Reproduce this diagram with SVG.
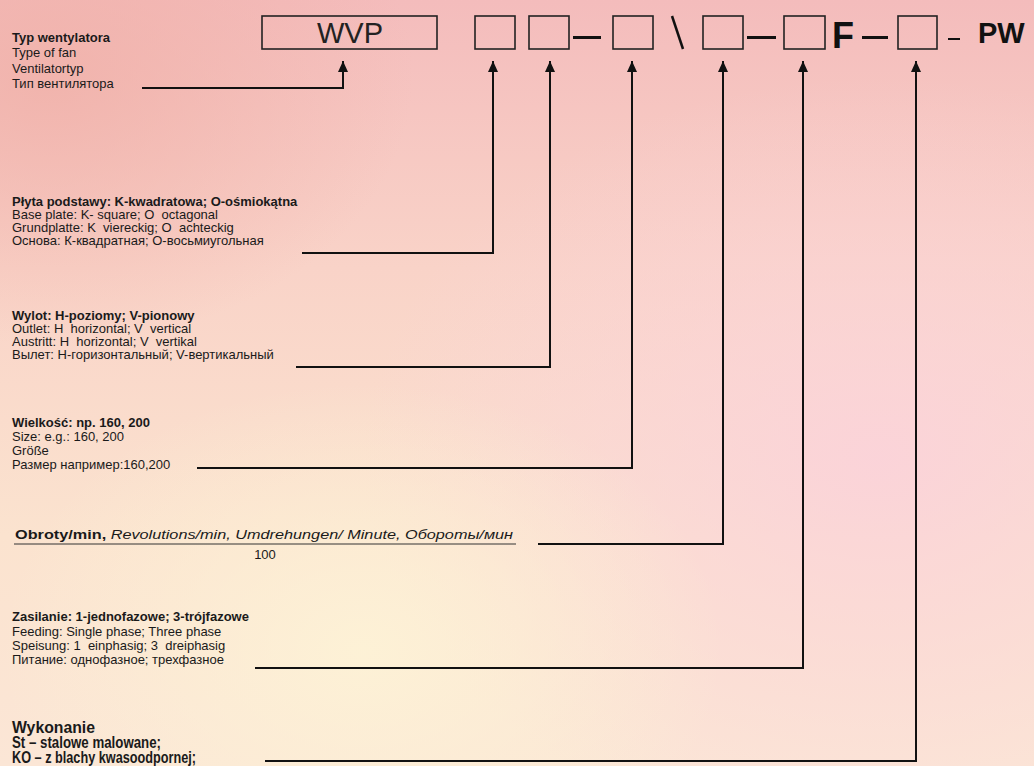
<svg xmlns="http://www.w3.org/2000/svg" width="1034" height="766" viewBox="0 0 1034 766">
<defs>
<linearGradient id="bg" x1="0" y1="0" x2="0" y2="1">
<stop offset="0" stop-color="#f4bcbc"/>
<stop offset="0.35" stop-color="#f9d3c8"/>
<stop offset="0.7" stop-color="#fbe3cf"/>
<stop offset="1" stop-color="#fbe6d6"/>
</linearGradient>
<radialGradient id="pinkR" cx="0.85" cy="0.6" r="0.5">
<stop offset="0" stop-color="#fbd2da" stop-opacity="0.9"/>
<stop offset="1" stop-color="#fbd2da" stop-opacity="0"/>
</radialGradient>
<radialGradient id="cream" cx="0.35" cy="0.85" r="0.35">
<stop offset="0" stop-color="#fdf2d6" stop-opacity="0.95"/>
<stop offset="1" stop-color="#fdf2d6" stop-opacity="0"/>
</radialGradient>
<radialGradient id="salmon" cx="0.05" cy="0.1" r="0.35">
<stop offset="0" stop-color="#f0b0a8" stop-opacity="0.8"/>
<stop offset="1" stop-color="#f0b0a8" stop-opacity="0"/>
</radialGradient>
<marker id="arr" viewBox="0 0 11 10" refX="11" refY="5" markerWidth="11" markerHeight="10" markerUnits="userSpaceOnUse" orient="auto">
<path d="M0,0 L11,5 L0,10 Z" fill="#111"/>
</marker>
<style>
.t{font-family:"Liberation Sans",Arial,sans-serif;font-size:13px;fill:#1a1a1a;white-space:pre}
.b{font-weight:bold}
.w{font-family:"Liberation Sans",Arial,sans-serif;font-weight:bold;font-size:16px;fill:#1a1a1a}
.box{fill:none;stroke:#222;stroke-width:1.6}
.dash{stroke:#111;stroke-width:3}
.con{fill:none;stroke:#111;stroke-width:2}
</style>
</defs>
<rect width="1034" height="766" fill="url(#bg)"/>
<rect width="1034" height="766" fill="url(#salmon)"/>
<rect width="1034" height="766" fill="url(#pinkR)"/>
<rect width="1034" height="766" fill="url(#cream)"/>

<g id="code">
<g id="box-wvp"><rect class="box" x="262" y="16" width="175" height="33"/>
<text x="350" y="43" text-anchor="middle" font-family="Liberation Sans,Arial,sans-serif" font-size="29" fill="#222">WVP</text></g>
<g id="box-1"><rect class="box" x="475" y="16" width="40" height="33"/></g>
<g id="box-2"><rect class="box" x="529" y="16" width="40" height="33"/></g>
<line class="dash" x1="573" y1="37.5" x2="601" y2="37.5"/>
<g id="box-3"><rect class="box" x="613" y="16" width="40" height="33"/></g>
<line stroke="#111" stroke-width="2.5" x1="672" y1="16" x2="683" y2="49"/>
<g id="box-4"><rect class="box" x="703" y="16" width="40" height="33"/></g>
<line class="dash" x1="747" y1="37.5" x2="776" y2="37.5"/>
<g id="box-5"><rect class="box" x="784" y="16" width="41" height="33"/></g>
<text x="832" y="48" font-family="Liberation Sans,Arial,sans-serif" font-weight="bold" font-size="36" fill="#111">F</text>
<line class="dash" x1="862" y1="37.5" x2="888" y2="37.5"/>
<g id="box-6"><rect class="box" x="898" y="16" width="39" height="33"/></g>
<line stroke="#111" stroke-width="2" x1="948" y1="39" x2="960" y2="39"/>
<text x="978" y="43" font-family="Liberation Sans,Arial,sans-serif" font-weight="bold" font-size="29" fill="#111">PW</text>
</g>

<g id="n-typ">
<text class="t b" x="12" y="42">Typ wentylatora</text>
<text class="t" x="12" y="57">Type of fan</text>
<text class="t" x="12" y="72.5">Ventilatortyp</text>
<text class="t" x="12" y="88">Тип вентилятора</text>
</g>
<g id="n-plyta">
<text class="t b" x="12" y="206">Płyta podstawy: K-kwadratowa; O-ośmiokątna</text>
<text class="t" x="12" y="219">Base plate: K- square; O&#160; octagonal</text>
<text class="t" x="12" y="232">Grundplatte: K&#160; viereckig; O&#160; achteckig</text>
<text class="t" x="12" y="245">Основа: К-квадратная; О-восьмиугольная</text>
</g>
<g id="n-wylot">
<text class="t b" x="12" y="320">Wylot: H-poziomy; V-pionowy</text>
<text class="t" x="12" y="333">Outlet: H&#160; horizontal; V&#160; vertical</text>
<text class="t" x="12" y="346">Austritt: H&#160; horizontal; V&#160; vertikal</text>
<text class="t" x="12" y="359">Вылет: Н-горизонтальный; V-вертикальный</text>
</g>
<g id="n-wielkosc">
<text class="t b" x="12" y="427">Wielkość: np. 160, 200</text>
<text class="t" x="12" y="441">Size: e.g.: 160, 200</text>
<text class="t" x="12" y="455">Größe</text>
<text class="t" x="12" y="469">Размер например:160,200</text>
</g>
<g id="n-obroty">
<text class="t" x="15" y="539" font-size="15" textLength="498" lengthAdjust="spacingAndGlyphs"><tspan font-weight="bold">Obroty/min,</tspan><tspan font-style="italic"> Revolutions/min, Umdrehungen/ Minute, Обороты/мин</tspan></text>
<line x1="14" y1="544" x2="516" y2="544" stroke="#333" stroke-width="1"/>
<text class="t" x="265" y="559" font-size="15" text-anchor="middle">100</text>
</g>
<g id="n-zasilanie">
<text class="t b" x="12" y="621">Zasilanie: 1-jednofazowe; 3-trójfazowe</text>
<text class="t" x="12" y="636">Feeding: Single phase; Three phase</text>
<text class="t" x="12" y="650">Speisung: 1&#160; einphasig; 3&#160; dreiphasig</text>
<text class="t" x="12" y="664">Питание: однофазное; трехфазное</text>
</g>
<g id="n-wykonanie">
<text class="w" x="12" y="733" textLength="83" lengthAdjust="spacingAndGlyphs">Wykonanie</text>
<text class="w" x="12" y="748" textLength="149" lengthAdjust="spacingAndGlyphs">St – stalowe malowane;</text>
<text class="w" x="12" y="763" textLength="184" lengthAdjust="spacingAndGlyphs">KO – z blachy kwasoodpornej;</text>
</g>

<g id="connectors">
<polyline class="con" marker-end="url(#arr)" points="142,88 343,88 343,61"/>
<polyline class="con" marker-end="url(#arr)" points="302,253 493,253 493,61"/>
<polyline class="con" marker-end="url(#arr)" points="296,367 550,367 550,61"/>
<polyline class="con" marker-end="url(#arr)" points="197,468 632,468 632,61"/>
<polyline class="con" marker-end="url(#arr)" points="538,544 723,544 723,61"/>
<polyline class="con" marker-end="url(#arr)" points="255,668 803,668 803,61"/>
<polyline class="con" marker-end="url(#arr)" points="265,761 916,761 916,61"/>
</g>
</svg>
